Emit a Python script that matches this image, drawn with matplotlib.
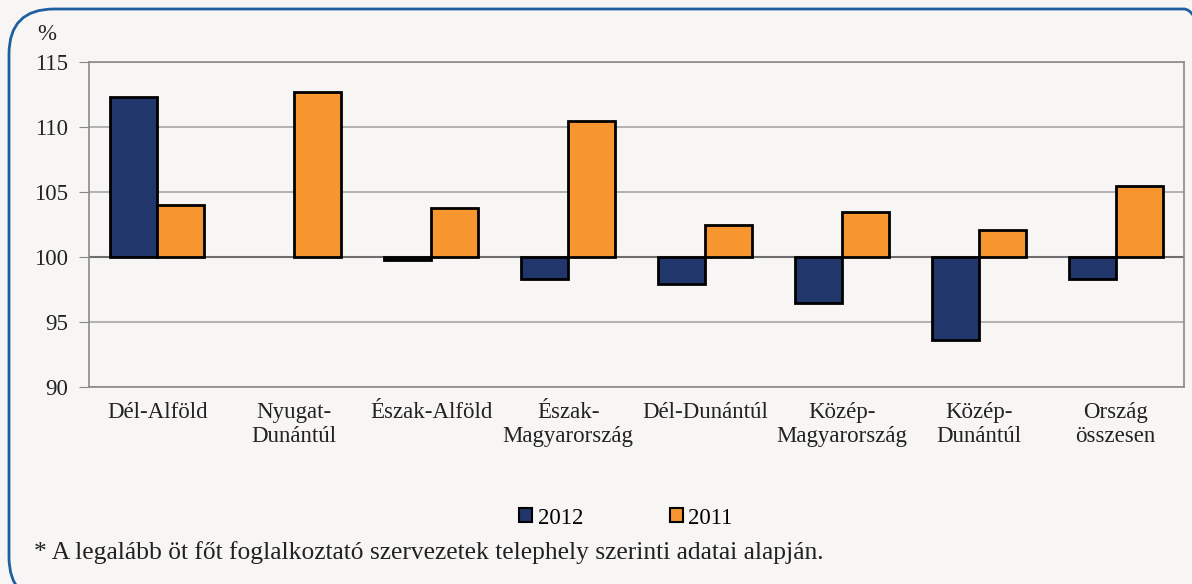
import numpy as np
import matplotlib.pyplot as plt
from matplotlib.patches import FancyBboxPatch, Patch

plt.rcParams['font.family'] = ['Liberation Serif', 'DejaVu Serif']

# **** data ****
categories = ['Dél-Alföld', 'Nyugat-\nDunántúl', 'Észak-Alföld', 'Észak-\nMagyarország',
              'Dél-Dunántúl', 'Közép-\nMagyarország', 'Közép-\nDunántúl', 'Ország\nösszesen']
v2012 = [112.3, np.nan, 99.8, 98.3, 97.9, 96.5, 93.6, 98.3]
v2011 = [104.0, 112.7, 103.8, 110.5, 102.5, 103.5, 102.1, 105.5]
yticks = [90, 95, 100, 105, 110, 115]
base = 100

bg = '#f7f6f4'
txt = '#222222'
fs = 16.5
fig = plt.figure(figsize=(11.92, 5.84), dpi=100, facecolor=bg)
W, H = 1192, 584

# rounded frame (pixel coords, runs past right and bottom edges)
frame = FancyBboxPatch((9, -18), 1220, 584 - 9 + 18,
                       boxstyle='round,pad=0,rounding_size=45',
                       transform=None, facecolor='none',
                       edgecolor='#1f5fa0', lw=2)
fig.patches.append(frame)

ax = fig.add_axes([89 / W, 1 - 387 / H, (1184 - 89) / W, (387 - 62) / H])
ax.set_facecolor(bg)

x = np.arange(len(categories))
w = 0.343
d12 = [v - base for v in v2012]
d11 = [v - base for v in v2011]
ax.bar(x - w / 2, d12, w, bottom=base, color='#21366b', edgecolor='black', lw=2, zorder=3)
ax.bar(x + w / 2, d11, w, bottom=base, color='#f7952f', edgecolor='black', lw=2, zorder=3)

ax.set_xlim(-0.5, len(categories) - 0.5)
ax.set_ylim(90, 115)
ax.set_yticks(yticks)
ax.set_yticklabels([str(t) for t in yticks], fontsize=fs, color=txt)
ax.set_xticks(x)
ax.set_xticklabels(categories, fontsize=fs, color=txt, linespacing=1.2)
ax.tick_params(axis='x', length=0, pad=11)
ax.tick_params(axis='y', length=7, color='#888888', pad=8)
ax.grid(axis='y', color='#a6a6a6', lw=1.2, zorder=0)
ax.axhline(base, color='#6e6e6e', lw=1.5, zorder=2)
for s in ax.spines.values():
    s.set_color('#8a8a8a')
    s.set_linewidth(1.2)

fig.text(37 / W, 1 - 35 / H, '%', fontsize=fs, color=txt, va='center')

handles = [Patch(facecolor='#21366b', edgecolor='black', lw=1.5),
           Patch(facecolor='#f7952f', edgecolor='black', lw=1.5)]
fig.legend(handles, ['2012', '2011'], loc='center', bbox_to_anchor=(626 / W, 1 - 518 / H),
           ncol=2, frameon=False, fontsize=fs, handlelength=0.55, handleheight=0.55,
           handletextpad=0.25, columnspacing=3.8)

fig.text(34 / W, 1 - 553 / H,
         '* A legalább öt főt foglalkoztató szervezetek telephely szerinti adatai alapján.',
         fontsize=18.4, color=txt, va='center')

fig.savefig('out.png', dpi=100, facecolor=bg)
